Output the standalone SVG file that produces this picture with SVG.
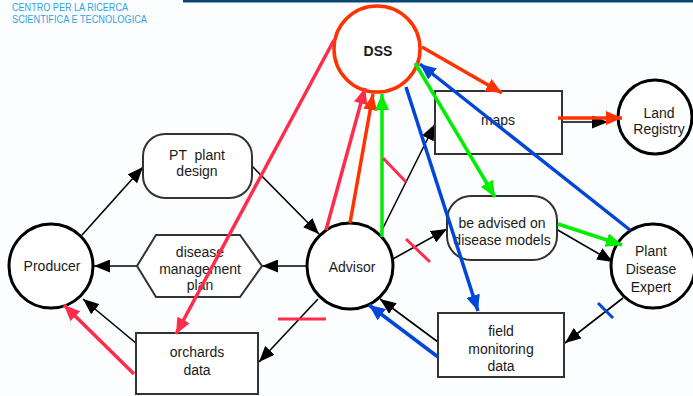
<svg xmlns="http://www.w3.org/2000/svg" width="693" height="396" viewBox="0 0 693 396">
  <defs>
    <style>
      .node { fill: #ffffff; stroke: #000000; stroke-width: 3; }
      .box { fill: #ffffff; stroke: #333333; stroke-width: 2; }
      .label { font-family: "Liberation Sans", Arial, sans-serif; font-size: 14px; fill: #1a1a1a; text-anchor: middle; }
      .logo { font-family: "Liberation Sans", Arial, sans-serif; font-size: 10px; fill: #2ea3e6; }
      .edge { stroke: #000000; stroke-width: 1.6; fill: none; marker-end: url(#head-black); }
      .crimson { stroke: #ff2d4b; stroke-width: 3.5; fill: none; }
      .orange { stroke: #ff3300; stroke-width: 3.5; fill: none; }
      .green { stroke: #00ee00; stroke-width: 3.5; fill: none; }
      .blue { stroke: #0047d9; stroke-width: 3.5; fill: none; }
    </style>
    <marker id="head-black" markerUnits="userSpaceOnUse" markerWidth="17" markerHeight="13" refX="16" refY="6.5" orient="auto">
      <path d="M0,0 L16,6.5 L0,13 z" fill="#000000"/>
    </marker>
    <marker id="head-crimson" markerUnits="userSpaceOnUse" markerWidth="17" markerHeight="14" refX="16" refY="7" orient="auto">
      <path d="M0,0 L16,7 L0,14 z" fill="#ff2d4b"/>
    </marker>
    <marker id="head-orange" markerUnits="userSpaceOnUse" markerWidth="17" markerHeight="14" refX="16" refY="7" orient="auto">
      <path d="M0,0 L16,7 L0,14 z" fill="#ff3300"/>
    </marker>
    <marker id="head-green" markerUnits="userSpaceOnUse" markerWidth="17" markerHeight="14" refX="16" refY="7" orient="auto">
      <path d="M0,0 L16,7 L0,14 z" fill="#00ee00"/>
    </marker>
    <marker id="head-blue" markerUnits="userSpaceOnUse" markerWidth="17" markerHeight="14" refX="16" refY="7" orient="auto">
      <path d="M0,0 L16,7 L0,14 z" fill="#0047d9"/>
    </marker>
  </defs>

  <!-- page background and header -->
  <rect x="0" y="0" width="693" height="396" fill="#fcfdff"/>
  <rect x="183" y="0" width="510" height="2.5" fill="#0a4677"/>
  <g id="logo">
    <text class="logo" x="12" y="11" textLength="116" lengthAdjust="spacingAndGlyphs">CENTRO PER LA RICERCA</text>
    <text class="logo" x="12" y="23" textLength="135" lengthAdjust="spacingAndGlyphs">SCIENTIFICA E TECNOLOGICA</text>
  </g>

  <!-- process flow connectors -->
  <g id="connectors">
    <line class="edge" x1="82" y1="235" x2="143" y2="167"/>
    <line class="edge" x1="252" y1="166" x2="319" y2="234"/>
    <line class="edge" x1="307" y1="266" x2="262" y2="266"/>
    <line class="edge" x1="137" y1="266" x2="94" y2="266"/>
    <line class="edge" x1="137" y1="344" x2="83" y2="299"/>
    <line class="edge" x1="318" y1="299" x2="259" y2="362"/>
    <line class="edge" x1="381" y1="232" x2="435" y2="124"/>
    <line class="edge" x1="391" y1="260" x2="447" y2="229"/>
    <line class="edge" x1="556" y1="229" x2="613" y2="262"/>
    <line class="edge" x1="623" y1="298" x2="565" y2="343"/>
    <line class="edge" x1="438" y1="342" x2="380" y2="299"/>
    <line class="edge" x1="562" y1="122" x2="608" y2="122"/>
  </g>

  <!-- nodes -->
  <g id="dss">
    <circle cx="377" cy="49" r="43" fill="#ffffff" stroke="#ff3300" stroke-width="3.5"/>
    <text class="label" x="378" y="56" font-weight="bold" fill="#000000">DSS</text>
  </g>
  <g id="maps">
    <rect class="box" x="435" y="91" width="127" height="63"/>
    <text class="label" x="498" y="125">maps</text>
  </g>
  <g id="land-registry">
    <circle class="node" cx="655" cy="117" r="37"/>
    <text class="label" x="659" y="118">Land</text>
    <text class="label" x="659" y="134">Registry</text>
  </g>
  <g id="pt-plant-design">
    <rect class="box" x="143" y="134" width="109" height="64" rx="22" ry="22"/>
    <text class="label" x="197" y="160" xml:space="preserve">PT  plant</text>
    <text class="label" x="197" y="176">design</text>
  </g>
  <g id="producer">
    <circle class="node" cx="51" cy="266" r="42"/>
    <text class="label" x="52" y="271">Producer</text>
  </g>
  <g id="disease-management-plan">
    <polygon class="box" points="137,266 156,235 240,235 262,266 240,297 156,297"/>
    <text class="label" x="200" y="257">disease</text>
    <text class="label" x="200" y="274">management</text>
    <text class="label" x="200" y="290">plan</text>
  </g>
  <g id="advisor">
    <circle class="node" cx="350" cy="266" r="43"/>
    <text class="label" x="352" y="272">Advisor</text>
  </g>
  <g id="be-advised">
    <rect class="box" x="447" y="196" width="110" height="64" rx="24" ry="24"/>
    <text class="label" x="502" y="228">be advised on</text>
    <text class="label" x="502" y="245">disease models</text>
  </g>
  <g id="plant-disease-expert">
    <circle class="node" cx="653" cy="266" r="42"/>
    <text class="label" x="651" y="256">Plant</text>
    <text class="label" x="651" y="274">Disease</text>
    <text class="label" x="651" y="292">Expert</text>
  </g>
  <g id="field-monitoring-data">
    <rect class="box" x="438" y="313" width="126" height="64"/>
    <text class="label" x="501" y="336">field</text>
    <text class="label" x="501" y="354">monitoring</text>
    <text class="label" x="501" y="371">data</text>
  </g>
  <g id="orchards-data">
    <rect class="box" x="136" y="333" width="122" height="61"/>
    <text class="label" x="197" y="357">orchards</text>
    <text class="label" x="197" y="375">data</text>
  </g>

  <!-- information flows drawn over the process -->
  <g id="info-connectors">
    <line class="crimson" x1="334" y1="40" x2="176" y2="334" marker-end="url(#head-crimson)"/>
    <line class="crimson" x1="134" y1="374" x2="64" y2="305" marker-end="url(#head-crimson)"/>
    <line class="crimson" x1="326" y1="230" x2="365" y2="88" marker-end="url(#head-crimson)"/>
    <line class="orange" x1="350" y1="223" x2="373" y2="94" marker-end="url(#head-orange)"/>
    <line class="orange" x1="422" y1="47" x2="502" y2="93" marker-end="url(#head-orange)"/>
    <line class="orange" x1="558" y1="118" x2="622" y2="118" marker-end="url(#head-orange)"/>
    <line class="green" x1="382" y1="237" x2="382" y2="94" marker-end="url(#head-green)"/>
    <line class="green" x1="415" y1="63" x2="495" y2="197" marker-end="url(#head-green)"/>
    <line class="green" x1="558" y1="224" x2="622" y2="245" marker-end="url(#head-green)"/>
    <line class="blue" x1="630" y1="230" x2="420" y2="64" marker-end="url(#head-blue)"/>
    <line class="blue" x1="406" y1="87" x2="478" y2="311" marker-end="url(#head-blue)"/>
    <line class="blue" x1="438" y1="357" x2="369" y2="305" marker-end="url(#head-blue)"/>
  </g>

  <!-- cut marks on flows -->
  <g id="cut-marks" stroke-width="3">
    <line x1="383" y1="158" x2="406" y2="182" stroke="#ff2d4b"/>
    <line x1="406" y1="239" x2="430" y2="262" stroke="#ff2d4b"/>
    <line x1="278" y1="319" x2="326" y2="319" stroke="#ff2d4b"/>
    <line x1="598" y1="303" x2="613" y2="318" stroke="#0047d9"/>
  </g>
</svg>
